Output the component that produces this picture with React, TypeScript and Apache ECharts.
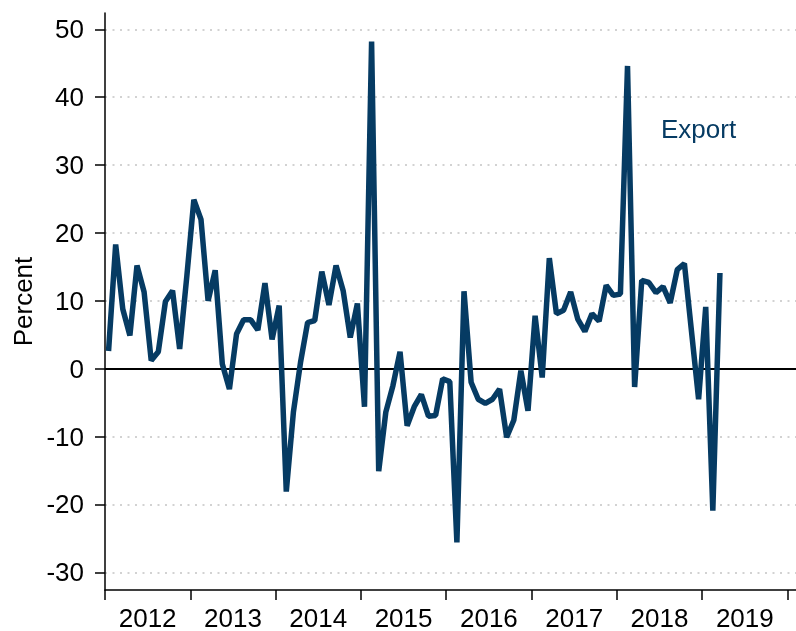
import React, { useEffect, useRef } from "react";
import * as echarts from "echarts";

const START_YEAR = 2012;

// Monthly export growth, Jan 2012 .. Mar 2019 (percent, year on year)
const exportGrowth = [
  2.6, 18.3, 8.8, 4.9, 15.2, 11.3, 1.2, 2.5, 9.9, 11.5, 2.9, 13.5,
  24.9, 22.0, 10.0, 14.5, 0.7, -3.0, 5.1, 7.2, 7.2, 5.7, 12.6, 4.3,
  9.3, -18.1, -6.4, 0.9, 6.8, 7.1, 14.3, 9.4, 15.2, 11.5, 4.6, 9.6,
  -5.6, 48.2, -15.1, -6.4, -2.5, 2.5, -8.4, -5.6, -3.8, -7.0, -6.9, -1.5,
  -1.9, -25.6, 11.4, -2.0, -4.5, -5.1, -4.5, -3.0, -10.1, -7.6, -0.3, -6.2,
  7.8, -1.3, 16.3, 8.1, 8.6, 11.3, 7.3, 5.5, 8.1, 7.0, 12.3, 10.8,
  11.0, 44.6, -2.7, 13.0, 12.7, 11.2, 12.1, 9.7, 14.6, 15.5, 5.5, -4.5,
  9.1, -20.9, 14.1,
];

const yTicks = [-30, -20, -10, 0, 10, 20, 30, 40, 50];
const yearTicks = [2012, 2013, 2014, 2015, 2016, 2017, 2018, 2019, 2020];
const yearLabelPositions = [2012.5, 2013.5, 2014.5, 2015.5, 2016.5, 2017.5, 2018.5, 2019.5];

const NAVY = "#063B63";
const FONT = "'Liberation Sans', Arial, Helvetica, sans-serif";
const FS = 26;

export default function App() {
  const ref = useRef<HTMLDivElement>(null);

  useEffect(() => {
    if (!ref.current) return;
    const chart = echarts.init(ref.current, null, { renderer: "svg" });
    const data = exportGrowth.map((v, i) => [START_YEAR + (i + 0.5) / 12, v]);

    chart.setOption({
      animation: false,
      grid: { left: 105, right: 0, top: 13, bottom: 39, containLabel: false },
      xAxis: {
        type: "value",
        min: 2012,
        max: 2020.1,
        axisLine: { show: true, onZero: false, lineStyle: { color: "#000", width: 1.5 } },
        axisTick: {
          show: true,
          length: 10,
          customValues: yearTicks,
          lineStyle: { color: "#000", width: 1.5 },
        },
        axisLabel: {
          customValues: yearLabelPositions,
          formatter: (v: number) => String(Math.floor(v)),
          margin: 18,
          lineHeight: 20,
          fontSize: FS,
          color: "#000",
          fontFamily: FONT,
        },
        splitLine: { show: false },
      },
      yAxis: {
        type: "value",
        min: -32.6,
        max: 52.4,
        name: "Percent",
        nameLocation: "middle",
        nameGap: 57,
        nameRotate: 90,
        nameTextStyle: { fontSize: FS, color: "#000", fontFamily: FONT },
        axisLine: { show: true, lineStyle: { color: "#000", width: 1.5 } },
        axisTick: {
          show: true,
          length: 10,
          customValues: yTicks,
          lineStyle: { color: "#000", width: 1.5 },
        },
        axisLabel: {
          customValues: yTicks,
          margin: 21,
          fontSize: FS,
          color: "#000",
          fontFamily: FONT,
        },
        splitLine: {
          show: true,
          lineStyle: { color: "#c4c4c4", type: [2, 5.5], width: 1.5 },
        },
      },
      series: [
        {
          type: "line",
          name: "Export",
          data,
          symbol: "none",
          showSymbol: false,
          z: 3,
          lineStyle: { color: NAVY, width: 5.5, join: "bevel" },
          markLine: {
            silent: true,
            z: 1,
            symbol: "none",
            label: { show: false },
            lineStyle: { color: "#000", width: 1.8, type: "solid" },
            data: [{ yAxis: 0 }],
          },
        },
      ],
      graphic: [
        {
          type: "text",
          x: 661,
          y: 128.5,
          style: {
            text: "Export",
            fontSize: FS,
            fontFamily: FONT,
            fill: NAVY,
            align: "left",
            verticalAlign: "middle",
          },
        },
      ],
    });

    return () => chart.dispose();
  }, []);

  return (
    <div
      ref={ref}
      style={{ position: "fixed", left: 0, top: 0, width: 796, height: 631 }}
    />
  );
}
